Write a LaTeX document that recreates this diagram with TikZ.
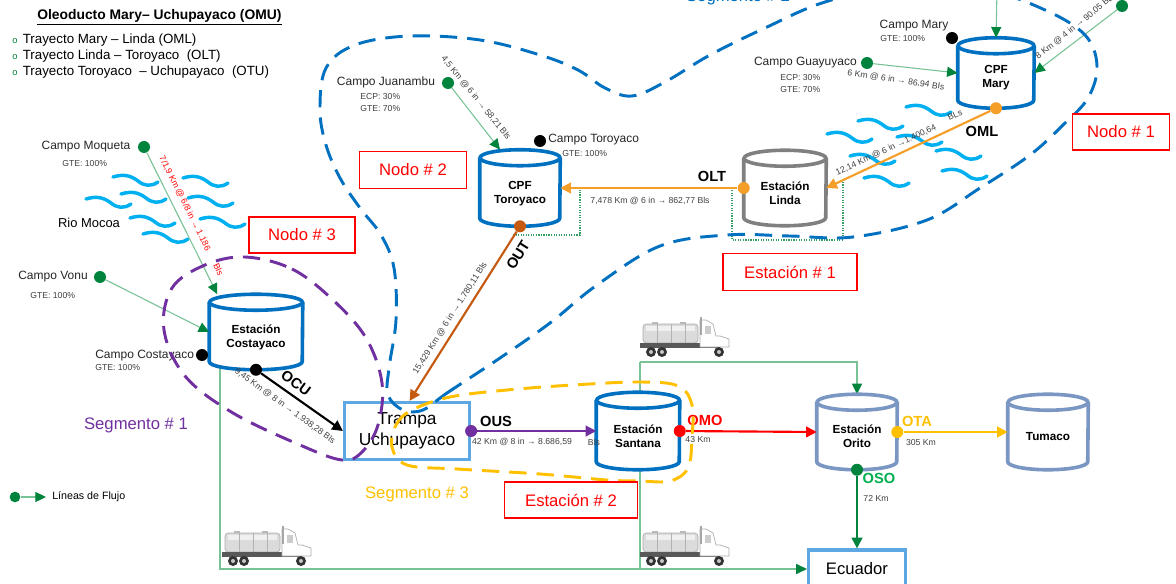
\documentclass[tikz,border=0pt]{standalone}
\usepackage{fontspec}
\setmainfont{Liberation Sans}
\usetikzlibrary{arrows.meta,calc}

\definecolor{cblue}{RGB}{0,112,192}
\definecolor{lblue}{RGB}{93,168,226}
\definecolor{steel}{RGB}{122,150,194}
\definecolor{dgray}{RGB}{128,128,128}
\definecolor{gdot}{RGB}{0,132,61}
\definecolor{gline}{RGB}{120,195,150}
\definecolor{oran}{RGB}{245,158,40}
\definecolor{brorange}{RGB}{197,90,17}
\definecolor{purp}{RGB}{112,48,160}
\definecolor{gold}{RGB}{255,192,0}
\definecolor{river}{RGB}{0,176,240}
\definecolor{osog}{RGB}{0,176,80}
\definecolor{redc}{RGB}{255,0,0}

\newcommand\fsz[2]{\fontsize{#1}{#2}\selectfont}

\tikzset{
  pdot/.style={circle, fill=#1, minimum size=9pt, inner sep=0pt},
  campo/.style={font=\fsz{9}{10.5}, text=black!85, inner sep=0pt},
  pct/.style={font=\fsz{6.5}{7.5}, text=black!75, inner sep=0pt, anchor=west},
  dist/.style={font=\fsz{6.5}{7.5}, text=black!75, inner sep=0pt},
  tag/.style={font=\bfseries\fsz{11}{12}, inner sep=0pt},
  redbox/.style={draw=redc, line width=1.1pt, fill=white, text=redc, font=\fsz{12.5}{14}, inner sep=0pt},
  segtext/.style={font=\fsz{12.5}{14}, inner sep=0pt},
  bluebox/.style={draw=lblue, line width=2.4pt, inner sep=0pt},
  flow/.style={gline, line width=0.8pt, -{Triangle[length=8pt,width=7.5pt,color=gdot]}},
  feed/.style={gline, line width=0.8pt},
  gdotted/.style={gdot!80, densely dotted, line width=0.9pt},
  pipe/.style={line width=1.6pt, -{Triangle[length=8pt,width=8pt]}},
  segloop/.style={dash pattern=on 13pt off 7.5pt, line width=2.2pt},
  wave/.style={river, line width=2.6pt, line cap=round},
  drumline/.style={line width=2.7pt, line join=round},
  drumtext/.style={font=\bfseries\fsz{8.8}{10.5}, align=center, inner sep=0pt},
  ripple/.pic={\draw[wave] (0,0) .. controls (10,-3) and (17,-2) .. (25,4) .. controls (31,9) and (38,10) .. (45,5);},
  tanker/.pic={
    \draw[gray!65, line width=0.5pt, rounded corners=2.5pt, fill=gray!28] (3,-33) rectangle (58,-14);
    \fill[gray!12] (6,-31) rectangle (55,-26);
    \foreach \s in {17,31,45} \draw[gray!60, line width=0.4pt] (\s,-33) -- (\s,-14);
    \fill[gray!55] (12,-35) rectangle (18,-33);
    \fill[gray!55] (40,-35) rectangle (46,-33);
    \fill[black!65] (0,-14) rectangle (78,-9);
    \draw[gray!65, fill=white, line width=0.5pt] (60,-37) -- (60,-10) -- (89,-10) -- (89,-18) -- (80,-21) -- (76,-21) -- (73,-33) -- (66,-37) -- cycle;
    \fill[gray!40] (65,-31) rectangle (71,-23);
    \draw[gray!70, line width=1pt] (61,-40) -- (61,-22);
    \foreach \w in {11,22,79} {\fill[black!80] (\w,-5) circle (5); \fill[gray!45] (\w,-5) circle (2);}
  }
}

% cylinder: name, centre, width, height, colour, label, label shift
\newcommand\drum[7]{%
  \node[minimum width=#3, minimum height=#4, inner sep=0pt] (#1) at (#2) {};
  \fill[white] ($(#1.north west)+(0,8)$) -- ($(#1.south west)+(0,-8)$)
     arc[start angle=180, end angle=360, x radius=#3/2, y radius=6pt]
     -- ($(#1.north east)+(0,8)$)
     arc[start angle=0, end angle=180, x radius=#3/2, y radius=6pt] -- cycle;
  \draw[drumline, #5] ($(#1.north west)+(0,8)$) -- ($(#1.south west)+(0,-8)$)
     arc[start angle=180, end angle=360, x radius=#3/2, y radius=6pt]
     -- ($(#1.north east)+(0,8)$);
  \draw[drumline, #5] ($(#1.north)+(0,8)$) ellipse[x radius=#3/2, y radius=6pt];
  \node[drumtext] (#1-t) at ($(#1.center)+(0,#7)$) {#6};
}

\begin{document}
\begin{tikzpicture}[x=0.75pt, y=-0.75pt]
\path[use as bounding box] (0,0) rectangle (1176,584);
\clip (0,0) rectangle (1176,584);
\fill[white] (0,0) rectangle (1176,584);

% rivers
\foreach \p in {(113,177),(183,178),(86,199),(121,194),(188,198),(130,218),(200,219),(143,234)}
  \pic at \p {ripple};
\foreach \p in {(906,107),(858,121),(827,134),(897,137),(850,156),(936,151),(864,178),(942,171)}
  \pic at \p {ripple};

% truck-transport lines
\coordinate (jn) at (640,362);
\coordinate (jb) at (640,569);
\coordinate (cbot) at (220,365);
\coordinate (topin) at (997,-10);

% boxes
\node[bluebox, minimum width=93.75pt, minimum height=42.75pt, align=center, font=\fsz{13}{15.5}] (trampa) at (407,431) {Trampa\\Uchupayaco};
\node[bluebox, minimum width=72.75pt, minimum height=28.5pt, font=\fsz{12.5}{14}] (ecuador) at (857,569) {Ecuador};

\draw[flow] (cbot) |- (ecuador.west);
\draw[flow] (jn) -| ([yshift=-1pt]857,393);
\draw[feed] (jn) -- (jb);

% dotted station limits
\coordinate (tl1) at (513,235); \coordinate (tl2) at (580,235); \coordinate (tl3) at (580,190);
\draw[gdotted] (tl1) -- (tl2) -- (tl3);
\coordinate (ll1) at (732,190); \coordinate (ll2) at (732,240); \coordinate (ll3) at (843,240); \coordinate (ll4) at (843,180);
\draw[gdotted] (ll1) -- (ll2) -- (ll3) -- (ll4);

% stations
\drum{mary}{996,73}{57pt}{52.5pt}{cblue}{CPF\\Mary}{5}
\drum{toro}{520,188}{60pt}{57pt}{cblue}{CPF\\Toroyaco}{6}
\drum{linda}{785,188}{61.5pt}{56.25pt}{dgray}{Estación\\Linda}{5}
\drum{costa}{256,332}{69.75pt}{56.25pt}{cblue}{Estación\\Costayaco}{5}
\drum{santa}{638,431}{62.25pt}{57.75pt}{cblue}{Estación\\Santana}{5}
\drum{orito}{857,432}{60pt}{56.25pt}{steel}{Estación\\Orito}{4}
\drum{tumaco}{1048,432}{60pt}{56.25pt}{steel}{Tumaco}{5}

% field feed lines
\node[pdot=gdot] (dmoq) at (144,147) {};
\node[pdot=gdot] (dvonu) at (100,277) {};
\node[pdot=gdot] (djuan) at (448,83) {};
\node[pdot=gdot] (dguay) at (867,63) {};
\node[pdot=gdot] (d8km) at (1122,6) {};
\node[pdot=black] (dmary) at (952,38) {};
\node[pdot=black] (dtoro) at (540,141) {};
\node[pdot=black] (dcosta) at (202,355) {};
\draw[flow] (dmoq) -- ([xshift=6pt]costa.north west);
\draw[flow] (dvonu) -- (costa.west);
\draw[flow] (djuan) -- ([xshift=-15pt]toro.north);
\draw[flow] (dguay) -- (mary.west);
\draw[flow] (d8km) -- (mary.east);
\draw[flow] (topin) -- (mary.north);

% pipelines
\node[pdot=oran] (oml0) at (mary.south) {};
\draw[pipe, oran] (oml0) -- (linda.east);
\node[pdot=oran] (olt0) at (linda.west) {};
\draw[pipe, oran] (olt0) -- (toro.east);
\node[pdot=brorange] (out0) at (toro.south) {};
\draw[pipe, brorange] (out0) -- ([xshift=50pt]trampa.north west);
\node[pdot=black] (ocu0) at (costa.south) {};
\draw[pipe, black] (ocu0) -- (trampa.west);
\node[pdot=purp] (ous0) at (trampa.east) {};
\draw[pipe, purp] (ous0) -- (santa.west);
\node[pdot=redc] (omo0) at (santa.east) {};
\draw[pipe, redc] (omo0) -- (orito.west);
\node[pdot=gold] (ota0) at (orito.east) {};
\draw[pipe, gold] (ota0) -- (tumaco.west);
\node[pdot=gdot] (oso0) at (orito.south) {};
\draw[pipe, gdot] (oso0) -- (ecuador.north);

% trucks
\pic at (222,566) {tanker};
\pic at (640,566) {tanker};
\pic at (640,357) {tanker};

% field labels
\node[campo] (lmary) at (914,26) {Campo Mary};
\node[pct] (lmary2) at (880,39) {GTE: 100\%};
\node[campo, anchor=east] (lguay) at (857,63) {Campo Guayuyaco};
\node[pct] (lguay2) at (780,78) {ECP: 30\%};
\node[pct] (lguay3) at (780,90) {GTE: 70\%};
\node[campo] (ljuan) at (386,82) {Campo Juanambu};
\node[pct] (ljuan2) at (360,97) {ECP: 30\%};
\node[pct] (ljuan3) at (360,109) {GTE: 70\%};
\node[campo, anchor=west] (ltoro) at (548,140) {Campo Toroyaco};
\node[pct] (ltoro2) at (562,154) {GTE: 100\%};
\node[campo] (lmoq) at (86,147) {Campo Moqueta};
\node[pct] (lmoq2) at (62,164) {GTE: 100\%};
\node[font=\fsz{9.7}{11}, inner sep=0pt] (lrio) at (89,223) {Rio Mocoa};
\node[campo] (lvonu) at (53,277) {Campo Vonu};
\node[pct] (lvonu2) at (30,296) {GTE: 100\%};
\node[campo, anchor=west] (lcosta) at (95,356) {Campo Costayaco};
\node[pct] (lcosta2) at (95,368) {GTE: 100\%};

% distance labels
\node[dist, text=redc, rotate=-63.4] (kmoq) at (191,216) {7/1,9 Km @ 6/8 in → 1.186\hspace{12pt}Bls};
\node[dist, rotate=-51] (kjuan) at (476,98) {4,5 Km @ 6 in → 58,21 Bls};
\node[dist, rotate=38.7] (k8) at (1076,26) {8 Km @ 4 in → 90,05 BLs};
\node[dist, rotate=-8.7] (kguay) at (896,80) {6 Km @ 6 in → 86,94 BIs};
\node[dist, rotate=25] (kml) at (886,150) {12,14 Km @ 6 in →1.400,64};
\node[dist, rotate=25] (kml2) at (955,115) {BLs};
\node[dist] (klt) at (650,201) {7,478 Km @ 6 in → 862,77 Bls};
\node[dist, rotate=57.5] (kut) at (450,318) {15,429 Km @ 6 in → 1.780,11 Bls};
\node[dist, rotate=-36] (kcu) at (285,406) {9,45 Km @ 8 in → 1.938,28 Bls};
\node[dist] (kus) at (522,442) {42 Km @ 8 in → 8.686,59};
\node[dist] (kus2) at (594,442) {Bls};
\node[dist] (kmo) at (698,440) {43 Km};
\node[dist] (kta) at (921,443) {305 Km};
\node[dist] (kso) at (876,498) {72 Km};

% pipeline codes
\node[tag] (tml) at (982,131) {OML};
\node[tag] (tlt) at (712,176) {OLT};
\node[tag, rotate=58] (tut) at (518,255) {OUT};
\node[tag, rotate=-36] (tcu) at (296,383) {OCU};
\node[tag] (tus) at (496,421) {OUS};
\node[tag, text=redc] (tmo) at (705,420) {OMO};
\node[tag, text=gold] (tta) at (917,421) {OTA};
\node[tag, text=osog] (tso) at (879,478) {OSO};

% segments
\draw[segloop, cblue] plot[smooth cycle, tension=0.6] coordinates {(423,410) (447,393) (500,358) (550,323) (597,285) (660,246) (727,235) (790,236) (853,237) (927,220) (980,188) (1030,155) (1063,125) (1088,98) (1097,66) (1085,35) (1045,10) (985,-10) (900,-14) (825,2) (765,28) (710,55) (665,82) (632,96) (605,88) (578,70) (540,55) (480,40) (410,36) (355,45) (326,68) (320,110) (326,145) (340,178) (360,208) (381,235) (394,268) (396,320) (389,368) (388,395) (403,410)};
\draw[segloop, purp] plot[smooth cycle, tension=0.6] coordinates {(245,257) (292,269) (333,300) (366,338) (382,383) (378,425) (362,452) (342,460) (300,445) (233,413) (185,376) (164,330) (172,288) (205,265)};
\draw[segloop, gold] plot[smooth cycle, tension=0.6] coordinates {(392,447) (396,425) (412,410) (450,397) (507,390) (573,385) (640,382) (678,386) (692,405) (692,437) (688,468) (670,481) (640,481) (607,480) (540,474) (457,469) (407,465)};
\node[segtext, text=purp] (s1) at (136,425) {Segmento \# 1};
\node[segtext, text=cblue] (s2) at (738,-3) {Segmento \# 2};
\node[segtext, text=gold] (s3) at (417,494) {Segmento \# 3};

% nodes and stations
\node[redbox, minimum width=72.75pt, minimum height=27pt] (n1) at (1121,132) {Nodo \# 1};
\node[redbox, minimum width=80pt, minimum height=27.75pt] (n2) at (413,170) {Nodo \# 2};
\node[redbox, minimum width=79.5pt, minimum height=27pt] (n3) at (302,235) {Nodo \# 3};
\node[redbox, minimum width=100.5pt, minimum height=27.75pt] (e1) at (790,272) {Estación \# 1};
\node[redbox, minimum width=99.75pt, minimum height=27pt] (e2) at (571,500) {Estación \# 2};

% legend
\node[anchor=west, font=\bfseries\fsz{10.4}{12}, inner sep=0pt] (title) at (37,17) {\underline{Oleoducto Mary– Uchupayaco (OMU)}};
\node[anchor=west, font=\fsz{10}{12}, inner sep=0pt] (it1) at (12,40) {\textcolor{gdot}{\fsz{7}{8}o}\hspace{4pt}Trayecto Mary – Linda (OML)};
\node[anchor=west, font=\fsz{10}{12}, inner sep=0pt] (it2) at (12,56) {\textcolor{gdot}{\fsz{7}{8}o}\hspace{4pt}Trayecto Linda – Toroyaco\ \ (OLT)};
\node[anchor=west, font=\fsz{10}{12}, inner sep=0pt] (it3) at (12,72) {\textcolor{gdot}{\fsz{7}{8}o}\hspace{4pt}Trayecto Toroyaco\ \ – Uchupayaco\ \ (OTU)};
\node[pdot=gdot, minimum size=8pt] (lgdot) at (15,497) {};
\coordinate (lgend) at (46,497);
\draw[flow] (lgdot) -- (lgend);
\node[anchor=west, font=\fsz{8}{9}, inner sep=0pt] (lgtext) at (52,497) {Líneas de Flujo};
\end{tikzpicture}
\end{document}
